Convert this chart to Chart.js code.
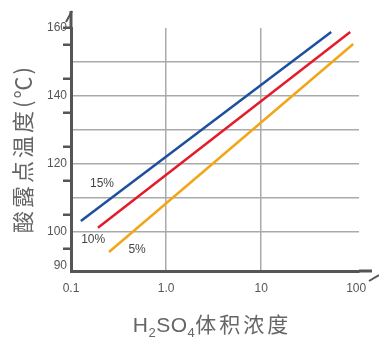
<!DOCTYPE html>
<html>
<head>
<meta charset="utf-8">
<script src="https://cdn.jsdelivr.net/npm/chart.js@4.4.1/dist/chart.umd.min.js"></script>
<style>
  html, body { margin: 0; padding: 0; background: #ffffff; }
  #wrap { width: 379px; height: 344px; position: relative; }
</style>
</head>
<body>
<div id="wrap"><canvas id="c"></canvas></div>
<script>
// ---- data ----
const seriesNames = ['15%', '10%', '5%'];
const line15x = [0.127, 54.6];
const line15y = [103.2, 158.8];
const line10x = [0.192, 86.5];
const line10y = [101.2, 158.8];
const line5x = [0.251, 93];
const line5y = [94.1, 155.3];
const labelX = [0.212, 0.171, 0.496];
const labelY = [114.1, 97.6, 94.7];
const xTicks = [0.1, 1, 10, 100];
const xTickLabels = ['0.1', '1.0', '10', '100'];
const yLabelled = [90, 100, 120, 140, 160];
const yGrid = [100, 110, 120, 130, 140, 150];
const yMarks = [95, 105, 115, 125, 135, 145, 155, 160];
const yTitleParts = ['酸露点温度', '(℃)'];
const xTitleParts = [['H', false], ['2', true], ['SO', false], ['4', true], ['体积浓度', false]];

const colors = ['#1d4f9f', '#e31b2b', '#f2a516'];

function pts(xs, ys) { return xs.map((x, i) => ({ x: x, y: ys[i] })); }

function drawSpaced(ctx, text, x, y, sp) {
  let w = 0;
  for (const ch of text) {
    ctx.fillText(ch, x + w, y);
    w += ctx.measureText(ch).width + sp;
  }
  return w;
}
function widthSpaced(ctx, text, sp) {
  let w = 0;
  for (const ch of text) w += ctx.measureText(ch).width + sp;
  return w;
}

const decor = {
  id: 'decor',
  afterDraw(chart) {
    const ctx = chart.ctx;
    const xs = chart.scales.x, ys = chart.scales.y;
    const a = chart.chartArea;
    ctx.save();
    // axis extensions with half arrows
    ctx.strokeStyle = '#555';
    ctx.lineWidth = 3;
    ctx.lineCap = 'butt';
    ctx.beginPath();
    ctx.moveTo(a.left, a.top);
    ctx.lineTo(a.left, a.top - 17);
    ctx.stroke();
    ctx.lineWidth = 2;
    ctx.beginPath();
    ctx.moveTo(a.left + 1, a.top - 17);
    ctx.lineTo(a.left - 5, a.top - 6);
    ctx.stroke();
    ctx.lineWidth = 3;
    ctx.beginPath();
    ctx.moveTo(a.right, a.bottom);
    ctx.lineTo(a.right + 13, a.bottom);
    ctx.stroke();
    ctx.lineWidth = 2;
    ctx.beginPath();
    ctx.moveTo(a.right + 10, a.bottom + 10);
    ctx.lineTo(a.right + 20, a.bottom + 4);
    ctx.stroke();

    // series labels
    ctx.fillStyle = '#444';
    ctx.font = '12px "Liberation Sans", Arial, sans-serif';
    ctx.textAlign = 'center';
    ctx.textBaseline = 'middle';
    seriesNames.forEach((n, i) => {
      ctx.fillText(n, xs.getPixelForValue(labelX[i]), ys.getPixelForValue(labelY[i]));
    });

    // y title (rotated)
    ctx.fillStyle = '#666';
    ctx.font = '22px "Noto Sans CJK SC", sans-serif';
    ctx.save();
    ctx.translate(23, 233);
    ctx.rotate(-Math.PI / 2);
    ctx.textAlign = 'left';
    ctx.textBaseline = 'middle';
    let off = drawSpaced(ctx, yTitleParts[0], 0, 0, 3);
    drawSpaced(ctx, yTitleParts[1], off, 0, 2);
    ctx.restore();

    // x title with subscripts
    const big = '21px "Liberation Sans", "Noto Sans CJK SC", sans-serif';
    const cjk = '21px "Noto Sans CJK SC", sans-serif';
    const small = '13px "Liberation Sans", sans-serif';
    const fontFor = (i, p) => p[1] ? small : (i === xTitleParts.length - 1 ? cjk : big);
    const spFor = (i, p) => (i === xTitleParts.length - 1 ? 3 : 0.5);
    let total = 0;
    const widths = xTitleParts.map((p, i) => {
      ctx.font = fontFor(i, p);
      const w = widthSpaced(ctx, p[0], spFor(i, p));
      total += w;
      return w;
    });
    let x = 212 - total / 2;
    const base = 332;
    ctx.textAlign = 'left';
    ctx.textBaseline = 'alphabetic';
    xTitleParts.forEach((p, i) => {
      ctx.font = fontFor(i, p);
      drawSpaced(ctx, p[0], x, p[1] ? base + 5 : base, spFor(i, p));
      x += widths[i];
    });
    ctx.restore();
  }
};

new Chart(document.getElementById('c'), {
  type: 'scatter',
  data: {
    datasets: [
      { label: seriesNames[0], data: pts(line15x, line15y), borderColor: colors[0] },
      { label: seriesNames[1], data: pts(line10x, line10y), borderColor: colors[1] },
      { label: seriesNames[2], data: pts(line5x, line5y), borderColor: colors[2] }
    ].map(d => Object.assign(d, { showLine: true, borderWidth: 2.5, pointRadius: 0, tension: 0, fill: false }))
  },
  options: {
    responsive: true,
    maintainAspectRatio: false,
    animation: false,
    layout: { padding: { top: 28, right: 20, left: 0, bottom: 0 } },
    plugins: { legend: { display: false }, tooltip: { enabled: false } },
    scales: {
      x: {
        type: 'logarithmic',
        min: 0.1,
        max: 107,
        afterBuildTicks: s => { s.ticks = xTicks.map(v => ({ value: v })); },
        afterFit: s => { s.height = 73; },
        ticks: {
          autoSkip: false,
          maxRotation: 0,
          padding: 10,
          color: '#555',
          font: { family: '"Liberation Sans", Arial, sans-serif', size: 12 },
          callback: (v) => { const i = xTicks.indexOf(v); return i >= 0 ? xTickLabels[i] : ''; }
        },
        grid: {
          drawTicks: false,
          lineWidth: 1.5,
          color: c => (c.tick && (c.tick.value === 1 || c.tick.value === 10)) ? '#aaa' : 'rgba(0,0,0,0)'
        },
        border: { display: true, color: '#555', width: 3 }
      },
      y: {
        type: 'linear',
        min: 88.5,
        max: 160,
        afterBuildTicks: s => {
          const v = [];
          for (let t = 90; t <= 160; t += 5) v.push({ value: t });
          s.ticks = v;
        },
        afterFit: s => { s.width = 71; },
        ticks: {
          autoSkip: false,
          padding: -4,
          color: '#555',
          font: { family: '"Liberation Sans", Arial, sans-serif', size: 12 },
          callback: v => yLabelled.indexOf(v) >= 0 ? String(v) : ''
        },
        grid: {
          drawTicks: true,
          tickLength: 8,
          lineWidth: 1.5,
          color: c => (c.tick && yGrid.indexOf(c.tick.value) >= 0) ? '#aaa' : 'rgba(0,0,0,0)',
          tickColor: c => (c.tick && yMarks.indexOf(c.tick.value) >= 0) ? '#555' : 'rgba(0,0,0,0)',
          tickWidth: 2.5
        },
        border: { display: true, color: '#555', width: 3 }
      }
    }
  },
  plugins: [decor]
});
</script>
</body>
</html>
